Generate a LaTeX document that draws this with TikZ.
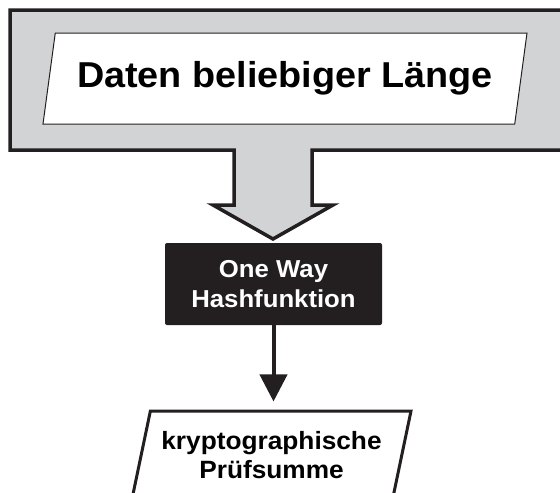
\documentclass[tikz,border=0pt]{standalone}
\usepackage{fontspec}
\setmainfont{Liberation Sans}[FakeStretch=1.05]
\usepackage{tikz}
\usetikzlibrary{calc}
\usetikzlibrary{arrows.meta}
\usetikzlibrary{shapes.geometric}
\usetikzlibrary{positioning}
\definecolor{ink}{RGB}{35,31,32}
\definecolor{boxgray}{RGB}{209,211,212}
\tikzstyle{bigframe} = [draw=ink, fill=boxgray, line width=3.5pt, miter limit=4]
\tikzstyle{datashape} = [trapezium, trapezium left angle=70, trapezium right angle=110, trapezium stretches body, draw=ink, fill=white, line width=1pt, minimum width=484pt, minimum height=91pt, inner sep=0pt, font=\bfseries\fontsize{36}{40}\selectfont]
\tikzstyle{hashbox} = [rectangle, rounded corners=2pt, fill=ink, text=white, minimum width=217pt, minimum height=82pt, inner sep=0pt, align=center, font=\bfseries\fontsize{24.5}{30.5}\selectfont]
\tikzstyle{resultshape} = [trapezium, trapezium left angle=69, trapezium right angle=111, trapezium stretches body, draw=ink, line width=3pt, minimum width=279pt, minimum height=88pt, inner sep=0pt, align=center, font=\bfseries\fontsize{25}{29.5}\selectfont]
\tikzstyle{flow} = [draw=ink, line width=4pt, -{Triangle[width=27pt, length=27pt]}, shorten >=8pt]

\begin{document}
\begin{tikzpicture}[x=1pt, y=-1pt]
\useasboundingbox (0,0) rectangle (560,493);
\draw [bigframe] (575,10) -- (10,10) -- (10,150) -- (234,150) -- (234,205) -- (213,205) -- (273,239) -- (333,205) -- (312,205) -- (312,150) -- (575,150);
\node [datashape] (data) at (285,78.5) {Daten beliebiger Länge};
\node [hashbox] (hash) at (273.5,284) {One Way\\Hashfunktion};
\node [resultshape] (result) at (271.5,455) {kryptographische\\Prüfsumme};
\draw [flow] (hash.south) -- (hash.south |- result.north);
\end{tikzpicture}
\end{document}
